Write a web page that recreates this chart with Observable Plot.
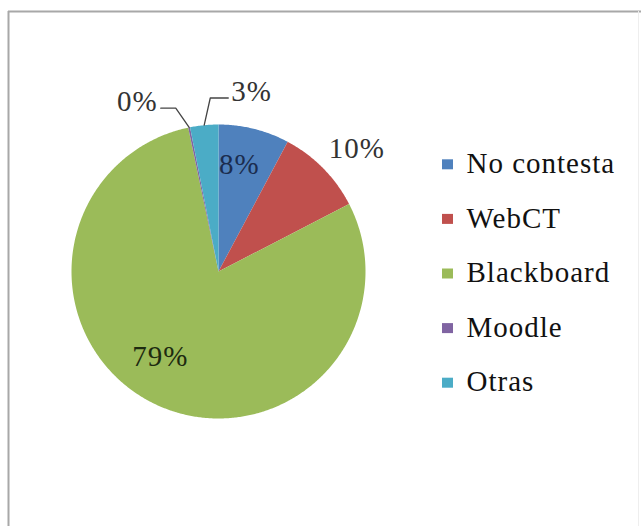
<!DOCTYPE html>
<html><head><meta charset="utf-8">
<script src="https://cdn.jsdelivr.net/npm/d3@7"></script>
<script src="https://cdn.jsdelivr.net/npm/@observablehq/plot@0.6"></script>
<style>body{margin:0;background:#fff}</style>
</head><body><div id="chart"></div>
<script>
// ---- data ----
const categories = ["No contesta", "WebCT", "Blackboard", "Moodle", "Otras"];
const values = [7.8, 9.6, 79.3, 0.2, 3.1];
const colors = ["#4F81BD", "#C0504D", "#9BBB59", "#8064A2", "#4BACC6"];

// ---- layout ----
const W = 641, H = 526, CX = 218, CY = 271, R = 147;
const FONT = "Liberation Serif";
const FS = 29, LS = 1;
const labelR = [0.74, 1.26, 0.70, 1.28, 1.245];
const labelShift = [-3, 3, 9, -14, 16];           // degrees
const labelFill = ["#1b2d4f", "#333", "#1d2a10", "#333", "#333"];
const legendX = 442, legendY0 = 164.3, legendStep = 54.6;

const deg = Math.PI / 180;
const pt = (a, r) => [CX + r * Math.sin(a), CY - r * Math.cos(a)];

const arcs = d3.pie().sort(null).startAngle(0).endAngle(2 * Math.PI)(values);

// slice polygons
const slices = [];
arcs.forEach((a, i) => {
  const n = Math.max(2, Math.ceil((a.endAngle - a.startAngle) / (0.5 * deg)));
  slices.push({cat: categories[i], x: CX, y: CY});
  for (let k = 0; k <= n; k++) {
    const t = a.startAngle + (a.endAngle - a.startAngle) * k / n;
    const [x, y] = pt(t, R);
    slices.push({cat: categories[i], x, y});
  }
  slices.push({cat: categories[i], x: CX, y: CY});
});

// text measure
const ctx = document.createElement("canvas").getContext("2d");
ctx.font = `${FS}px "${FONT}"`;
const tw = s => ctx.measureText(s).width + LS * s.length;

// labels
const labels = arcs.map((a, i) => {
  const mid = (a.startAngle + a.endAngle) / 2;
  const ang = mid + labelShift[i] * deg;
  const [x, y] = pt(ang, labelR[i] * R);
  return {i, mid, x, y, text: Math.round(values[i]) + "%", fill: labelFill[i]};
});

// leader lines for small outside labels
const leaders = [];
labels.forEach(l => {
  if (labelR[l.i] > 1 && values[l.i] < 5) {
    const [ex, ey] = pt(l.mid, R);
    const w = tw(l.text);
    const left = l.x < ex;
    const sx = left ? l.x + w / 2 + 3 : l.x - w / 2 - 3;
    const sy = l.y + 6.5;
    const bx = left ? sx + 15 : sx - 18;
    [[sx, sy], [bx, sy], [ex, ey]].forEach(([x, y]) => leaders.push({g: l.i, x, y}));
  }
});

// legend
const legend = categories.map((c, i) => ({cat: c, y: legendY0 + i * legendStep}));

const chart = Plot.plot({
  width: W, height: H,
  margin: 0,
  x: {domain: [0, W], range: [0, W], axis: null},
  y: {domain: [0, H], range: [0, H], axis: null},
  color: {domain: categories, range: colors},
  style: {fontFamily: FONT, letterSpacing: LS + "px", background: "#fff"},
  marks: [
    Plot.ruleY([11], {x1: 8, x2: W, stroke: "#a8a8a8", strokeWidth: 2}),
    Plot.ruleX([8], {y1: 11, y2: H, stroke: "#a8a8a8", strokeWidth: 2}),
    Plot.ruleX([638], {y1: 11, y2: H, stroke: "#eeeeee", strokeWidth: 1}),
    Plot.line(slices, {x: "x", y: "y", z: "cat", fill: "cat", stroke: "none"}),
    Plot.line(leaders, {x: "x", y: "y", z: "g", stroke: "#444", strokeWidth: 1.3}),
    Plot.text(labels, {x: "x", y: "y", text: "text", fill: "fill", fontSize: FS, fontFamily: FONT}),
    Plot.rect(legend, {x1: legendX, x2: legendX + 11, y1: d => d.y - 5, y2: d => d.y + 5, fill: "cat"}),
    Plot.text(legend, {x: legendX + 24, y: d => d.y - 1, text: "cat", textAnchor: "start", fill: "#111", fontSize: FS, fontFamily: FONT})
  ]
});
document.getElementById("chart").append(chart);
</script>
</body></html>
